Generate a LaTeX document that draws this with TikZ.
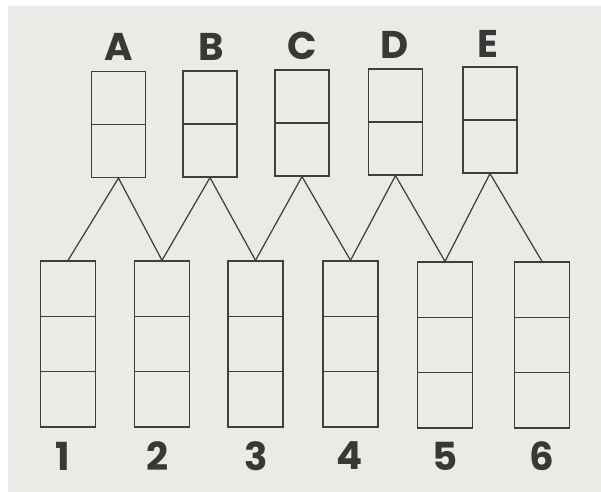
\documentclass[tikz,border=0pt]{standalone}
\usepackage{fontspec}
\setsansfont{Poppins}
\usetikzlibrary{positioning, calc}

\definecolor{paper}{RGB}{233,235,231}
\definecolor{ink}{RGB}{62,62,60}

\begin{document}
\begin{tikzpicture}[
    x=0.02cm, y=-0.02cm,
    cellup/.style={
        rectangle, draw=ink, line width=0.7pt,
        minimum width=1.08cm, minimum height=2.12cm,
        path picture={
            \draw[ink, line width=0.7pt]
                (path picture bounding box.west) -- (path picture bounding box.east);
        }
    },
    celldown/.style={
        rectangle, draw=ink, line width=0.7pt,
        minimum width=1.1cm, minimum height=3.32cm,
        path picture={
            \foreach \f in {1/3, 2/3}
                \draw[ink, line width=0.7pt]
                    ($(path picture bounding box.south west)!\f!(path picture bounding box.north west)$) --
                    ($(path picture bounding box.south east)!\f!(path picture bounding box.north east)$);
        }
    },
    tag/.style={font=\sffamily\bfseries\fontsize{22}{26}\selectfont, text=ink!90!black},
    wire/.style={draw=ink, line width=0.7pt},
]

% Sfondo
\fill[white] (0,0) rectangle (601,492);
\fill[paper] (8,6) rectangle (601,492);
\useasboundingbox (0,0) rectangle (601,492);

% Caselle superiori
\node[cellup] (A) at (118.5,124.5) {};
\node[cellup] (B) at (210,124)     {};
\node[cellup] (C) at (302,123)     {};
\node[cellup] (D) at (395.5,122)   {};
\node[cellup] (E) at (490,120)     {};

% Caselle inferiori
\node[celldown] (n1) at (68,344)    {};
\node[celldown] (n2) at (162,344)   {};
\node[celldown] (n3) at (255.5,344) {};
\node[celldown] (n4) at (350.5,344) {};
\node[celldown] (n5) at (445,345)   {};
\node[celldown] (n6) at (542,345)   {};

% Etichette
\node[tag] (labA) at (119,47) {A};
\node[tag] (labB) at (211,47) {B};
\node[tag] (labC) at (302,46) {C};
\node[tag] (labD) at (395,45) {D};
\node[tag] (labE) at (488,44) {E};

\node[tag] (lab1) at (63,456)  {1};
\node[tag] (lab2) at (158,456) {2};
\node[tag] (lab3) at (256,456) {3};
\node[tag] (lab4) at (350,456) {4};
\node[tag] (lab5) at (445,456) {5};
\node[tag] (lab6) at (542,456) {6};

% Collegamenti
\foreach \t/\l/\r in {A/n1/n2, B/n2/n3, C/n3/n4, D/n4/n5, E/n5/n6} {
    \draw[wire] (\l.north) -- (\t.south) -- (\r.north);
}
\end{tikzpicture}
\end{document}
